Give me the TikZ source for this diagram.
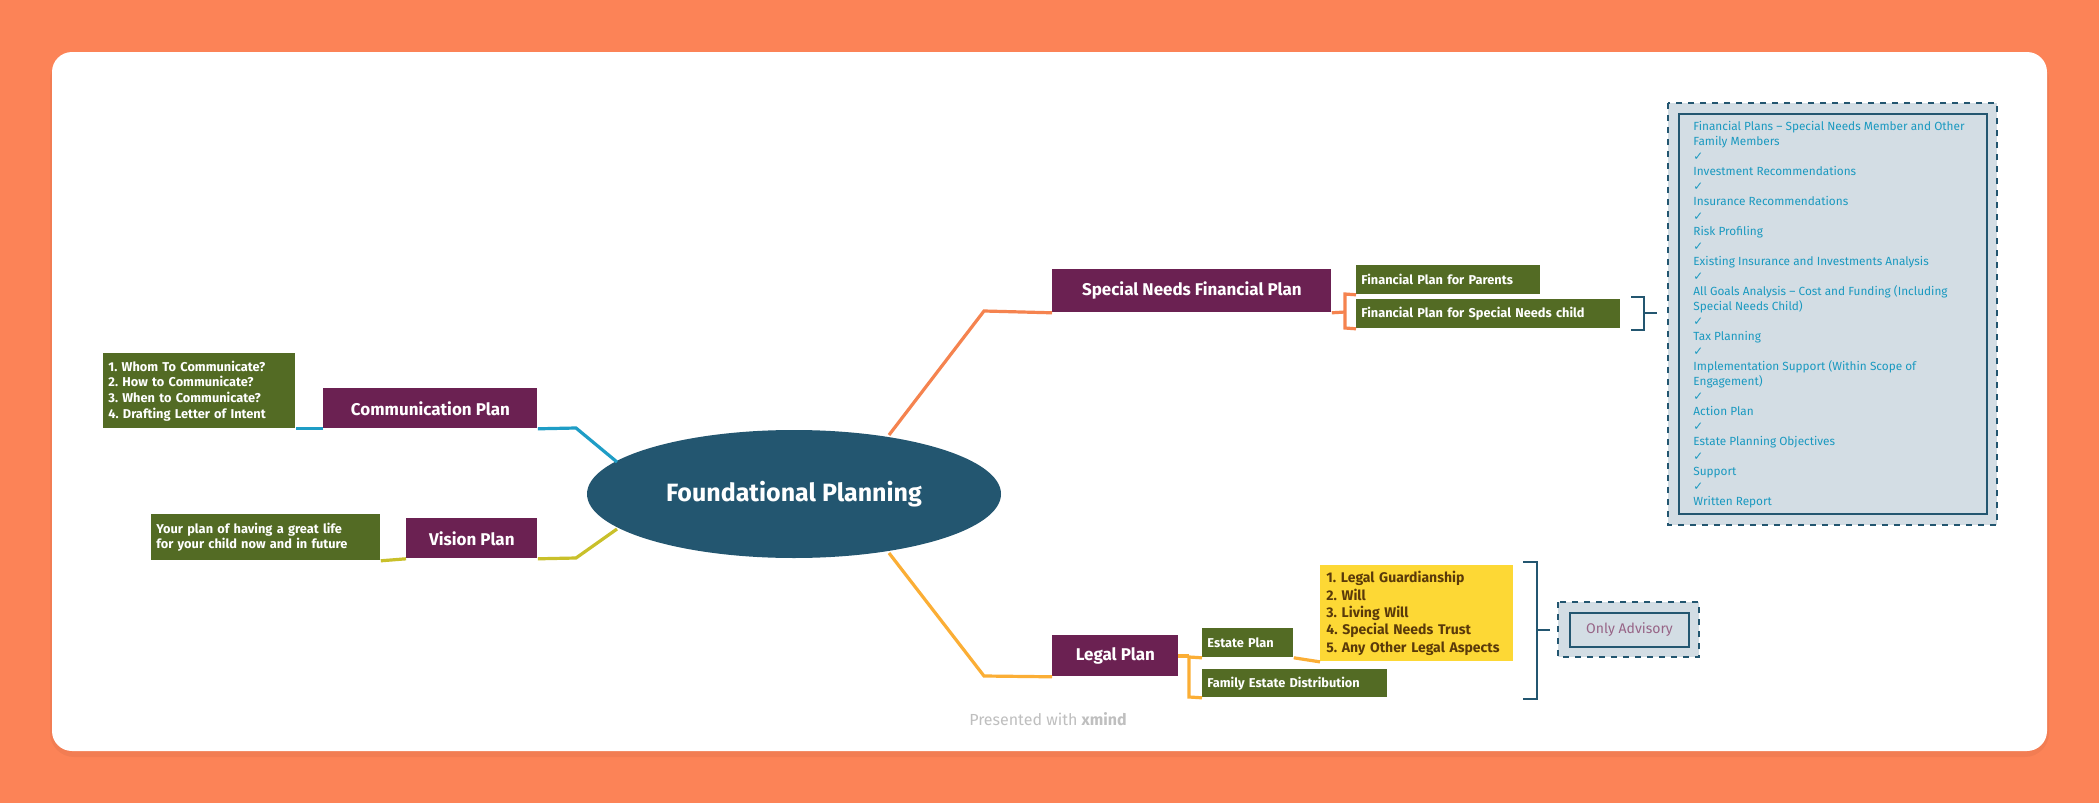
\documentclass[tikz,border=0pt]{standalone}
\usetikzlibrary{shapes.geometric}
\usepackage{fontspec}
\setmainfont{Fira Sans}
\newfontfamily\djv{DejaVu Sans}
\frenchspacing
\begin{document}
\begin{tikzpicture}[x=0.5pt,y=-0.5pt,
  purp/.style={fill=cpurp,text=white,font=\bfseries\fontsize{8.5}{10}\selectfont,inner sep=0,minimum height=20pt,anchor=north west},
  grn/.style={fill=cgrn,text=white,font=\bfseries\fontsize{6.4}{7.8}\selectfont,inner xsep=2.5pt,inner ysep=2pt,anchor=north west,align=left},
  br/.style={line width=1.6pt},
  dbox/.style={draw=cnavy,dashed,line width=1pt,fill=cbox},
  ibox/.style={draw=cnavy,line width=1.2pt}]
\definecolor{cbg}{HTML}{FC8357}
\definecolor{cpurp}{HTML}{6B2152}
\definecolor{cgrn}{HTML}{536B24}
\definecolor{cnavy}{HTML}{235670}
\definecolor{cblue}{HTML}{1E9DC6}
\definecolor{cvis}{HTML}{C9C02A}
\definecolor{corg}{HTML}{F5834F}
\definecolor{cleg}{HTML}{FBAE35}
\definecolor{cyel}{HTML}{FDD835}
\definecolor{cbox}{HTML}{D3DDE4}
\definecolor{ctxt}{HTML}{1A99C0}
\definecolor{cytx}{HTML}{5A3A0A}
\fill[cbg] (0,0) rectangle (2099,803);
\fill[black,opacity=0.04,rounded corners=12pt] (50,56) rectangle (2049,757);
\fill[white,rounded corners=10pt] (52,52) rectangle (2047,751);
\useasboundingbox (0,0) rectangle (2099,803);
% center
\node[ellipse,fill=cnavy,minimum width=207pt,minimum height=64pt,inner sep=0,text=white,font=\bfseries\fontsize{12.5}{14}\selectfont] (c) at (794,494) {Foundational Planning};
% main nodes
\node[purp,minimum width=279*0.5pt,minimum height=43*0.5pt] (sn) at (1052,269) {Special Needs Financial Plan};
\node[purp,minimum width=214*0.5pt,minimum height=40*0.5pt] (cp) at (323,388) {Communication Plan};
\node[purp,minimum width=131*0.5pt,minimum height=40*0.5pt] (vp) at (406,518) {Vision Plan};
\node[purp,minimum width=126*0.5pt,minimum height=41*0.5pt] (lp) at (1052,635) {Legal Plan};
% green
\node[grn,text width=87pt,minimum height=29*0.5pt] (fp1) at (1356,265) {Financial Plan for Parents};
\node[grn,text width=127pt,minimum height=29*0.5pt] (fp2) at (1356,299) {Financial Plan for Special Needs child};
\node[grn,text width=91pt,minimum height=75*0.5pt] (cl) at (103,353) {1. Whom To Communicate?\\2. How to Communicate?\\3. When to Communicate?\\4. Drafting Letter of Intent};
\node[grn,text width=109.5pt,minimum height=46*0.5pt] (vt) at (151,514) {Your plan of having a great life\\for your child now and in future};
\node[grn,text width=40.5pt,minimum height=29*0.5pt] (ep) at (1202,628) {Estate Plan};
\node[grn,text width=87.5pt,minimum height=28*0.5pt] (fe) at (1202,669) {Family Estate Distribution};
\node[fill=cyel,text=cytx,font=\fontsize{7}{8.7}\selectfont\bfseries,align=left,anchor=north west,inner sep=3pt,text width=90.5pt,minimum height=88*0.5pt] (yl) at (1320,565) {1. Legal Guardianship\\2. Will\\3. Living Will\\4. Special Needs Trust\\5. Any Other Legal Aspects};
% connectors
\draw[br,corg] (889,435) -- (984,311) -- (sn.south west);
\draw[br,cleg] (889,553) -- (984,676) -- (lp.south west);
\draw[br,cblue] (617,462) -- (576,428) -- (cp.south east);
\draw[br,cblue] (cp.south west) -- (cl.south east);
\draw[br,cvis] (617,529) -- (576,558) -- (vp.south east);
\draw[br,cvis] (vp.south west) -- (vt.south east);
\draw[br,corg] (sn.south east) -- (1345,312);
\draw[br,corg] (fp1.south west) -- (1345,294) -- (1345,328) -- (fp2.south west);
\draw[br,cleg] (1178,656) -- (1189,656);
\draw[br,cleg] (ep.south west) -- (1189,657) -- (1189,697) -- (fe.south west);
\draw[br,cleg] (ep.south east) -- (yl.south west);
% brackets
\draw[cnavy,line width=1pt] (1631,297) -- (1644,297) -- (1644,330) -- (1631,330) (1644,313) -- (1657,313);
\draw[cnavy,line width=1pt] (1523,562) -- (1537,562) -- (1537,699) -- (1523,699) (1537,630) -- (1550,630);
% big box
\draw[dbox] (1668,103) rectangle (1997,525);
\draw[ibox] (1679,114) rectangle (1987,514);
\node[anchor=north west,text=ctxt,font=\fontsize{5.9}{7.5}\selectfont,align=left,inner sep=0] (lst) at (1693,121) {Financial Plans – Special Needs Member and Other\\Family Members\\{\djv ✓}\\Investment Recommendations\\{\djv ✓}\\Insurance Recommendations\\{\djv ✓}\\Risk Profiling\\{\djv ✓}\\Existing Insurance and Investments Analysis\\{\djv ✓}\\All Goals Analysis – Cost and Funding (Including\\Special Needs Child)\\{\djv ✓}\\Tax Planning\\{\djv ✓}\\Implementation Support (Within Scope of\\Engagement)\\{\djv ✓}\\Action Plan\\{\djv ✓}\\Estate Planning Objectives\\{\djv ✓}\\Support\\{\djv ✓}\\Written Report};
% advisory
\draw[dbox] (1558,602) rectangle (1699,657);
\node[ibox,minimum width=119*0.5pt,minimum height=34*0.5pt,inner sep=0,text=cpurp!70!white,font=\fontsize{7}{8}\selectfont] (oa) at (1629.5,630) {Only Advisory};
\node[text=black!25,font=\fontsize{8}{9}\selectfont] (pw) at (1048,719) {Presented with \textbf{xmind}};
\end{tikzpicture}
\end{document}
